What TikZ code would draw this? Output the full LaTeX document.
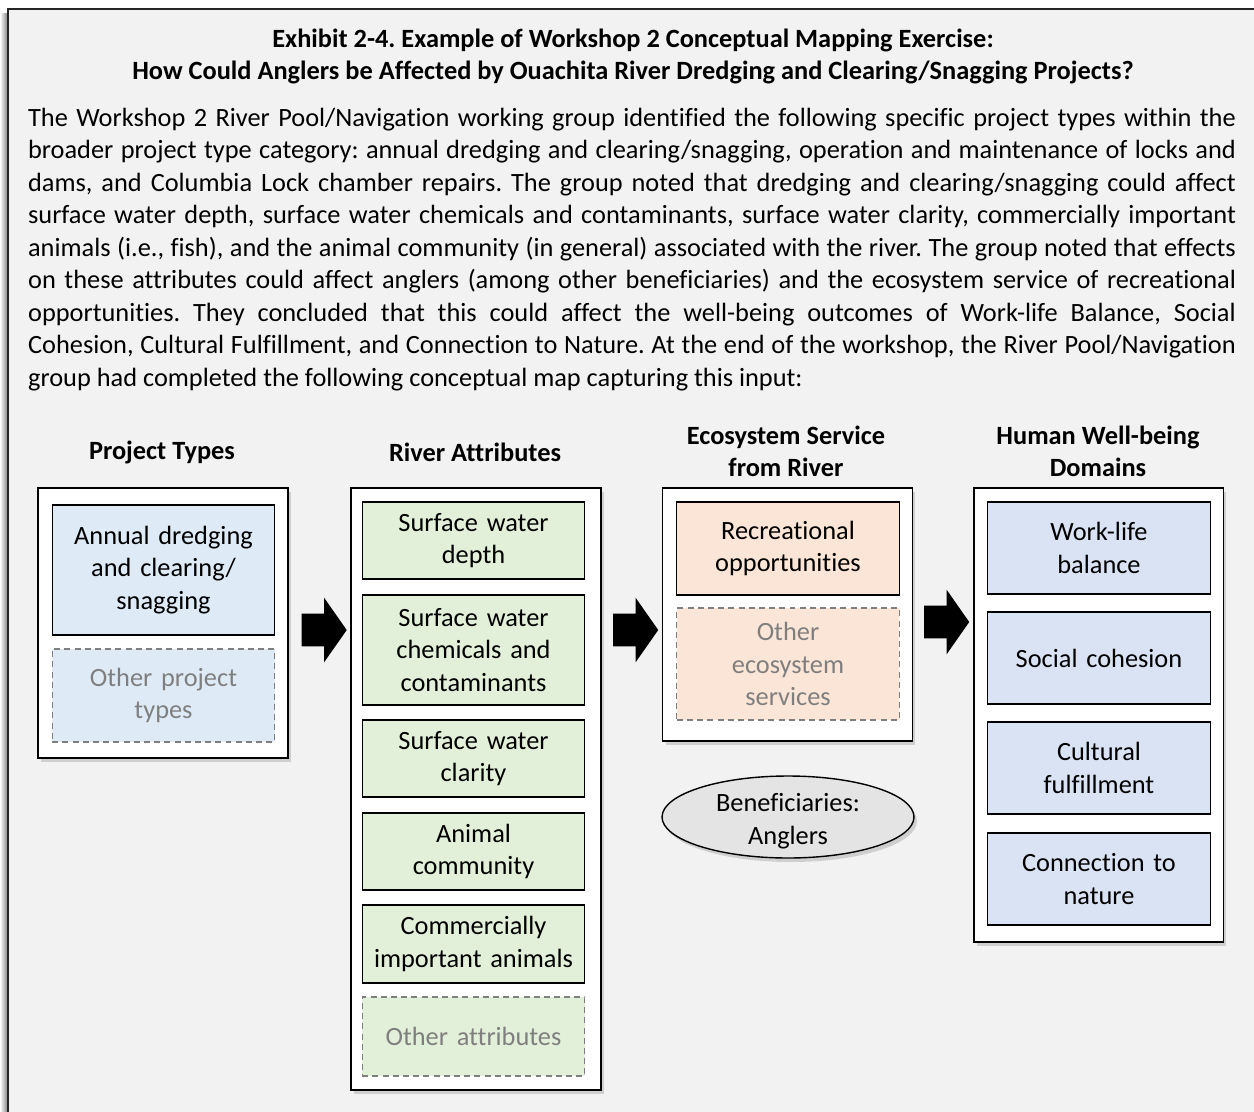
\documentclass[tikz,border=0pt]{standalone}
\usepackage{fontspec}
\setmainfont{Carlito}[RawFeature=-liga]
\frenchspacing
\usetikzlibrary{shapes.geometric,shapes.arrows,shadows}

\definecolor{pagebg}{HTML}{F2F2F2}
\definecolor{projblue}{HTML}{DEEBF7}
\definecolor{attrgreen}{HTML}{E2F0D9}
\definecolor{servpeach}{HTML}{FBE5D6}
\definecolor{domainblue}{HTML}{DAE3F3}
\definecolor{benefgray}{HTML}{E4E4E4}
\definecolor{othergray}{HTML}{7F7F7F}

\begin{document}
\begin{tikzpicture}[
  x=0.02cm, y=-0.02cm,
  every node/.style={font=\fontsize{15}{18.5}\selectfont, inner sep=0pt},
  colbox/.style={draw, fill=white, line width=1.1pt, minimum width=5cm,
    drop shadow={shadow xshift=0.06cm, shadow yshift=-0.08cm, opacity=0.3}},
  item/.style={draw, line width=0.8pt, minimum width=4.45cm, text width=4.3cm, align=center},
  otheritem/.style={item, draw=othergray, text=othergray, dash pattern=on 3.4pt off 2.4pt},
  header/.style={font=\fontsize{15}{18.3}\selectfont\bfseries, align=center},
  blockarrow/.style={single arrow, fill=black, draw=none, minimum height=0.9cm,
    inner xsep=0pt, inner ysep=0.32cm, single arrow head extend=0.32cm,
    single arrow tip angle=110}
  ]

  % Page
  \useasboundingbox (0,0) rectangle (1254,1112);
  \fill[white] (0,0) rectangle (1254,1112);
  \shade[left color=white, right color=black!45] (0,13) rectangle (7,1112);
  \fill[pagebg] (8,9) rectangle (1254,1112);
  \draw[line width=1.2pt, black!85] (8,1112) -- (8,9) -- (1254,9);

  % Title and text
  \node[header, font=\fontsize{15}{18}\selectfont\bfseries] (title) at (633,56.5)
    {Exhibit 2-4. Example of Workshop 2 Conceptual Mapping Exercise:\\
     How Could Anglers be Affected by Ouachita River Dredging and Clearing/Snagging Projects?};
  \node[text width=24.16cm, align=justify] (intro) at (632,249.5) {\noindent
    The Workshop 2 River Pool/Navigation working group identified the following specific project types within the\linebreak
    broader project type category: annual dredging and clearing/snagging, operation and maintenance of locks and\linebreak
    dams, and Columbia Lock chamber repairs. The group noted that dredging and clearing/snagging could affect\linebreak
    surface water depth, surface water chemicals and contaminants, surface water clarity, commercially important\linebreak
    animals (i.e., fish), and the animal community (in general) associated with the river. The group noted that effects\linebreak
    on these attributes could affect anglers (among other beneficiaries) and the ecosystem service of recreational\linebreak
    opportunities. They concluded that this could affect the well-being outcomes of Work-life Balance, Social\linebreak
    Cohesion, Cultural Fulfillment, and Connection to Nature. At the end of the workshop, the River Pool/Navigation\linebreak
    group had completed the following conceptual map capturing this input:};

  % Column headers
  \node[header] (pthead) at (162,452) {Project Types};
  \node[header] (rahead) at (475,452) {River Attributes};
  \node[header] (eshead) at (786,451) {Ecosystem Service\\from River};
  \node[header] (hwhead) at (1098,451) {Human Well-being\\Domains};

  % Columns
  \node[colbox, minimum height=5.4cm] (pt) at (163,623) {};
  \node[colbox, minimum height=12.04cm] (ra) at (476,789) {};
  \node[colbox, minimum height=5.06cm] (es) at (787.5,614.5) {};
  \node[colbox, minimum height=9.08cm] (hw) at (1098.5,715) {};

  % Project types
  \node[item, fill=projblue, minimum height=2.6cm] (pt1) at (163.5,570) {Annual dredging\\and clearing/\\snagging};
  \node[otheritem, fill=projblue, minimum height=1.86cm] (pt2) at (163.5,695.5) {Other project\\types};

  % River attributes
  \node[item, fill=attrgreen, minimum height=1.54cm] (ra1) at (473.5,540.5) {Surface water\\depth};
  \node[item, fill=attrgreen, minimum height=2.2cm] (ra2) at (473.5,650) {Surface water\\chemicals and\\contaminants};
  \node[item, fill=attrgreen, minimum height=1.54cm] (ra3) at (473.5,758.5) {Surface water\\clarity};
  \node[item, fill=attrgreen, minimum height=1.54cm] (ra4) at (473.5,851.5) {Animal\\community};
  \node[item, fill=attrgreen, minimum height=1.56cm] (ra5) at (473.5,944) {Commercially\\important animals};
  \node[otheritem, fill=attrgreen, minimum height=1.58cm] (ra6) at (473.5,1036.5) {Other attributes};

  % Ecosystem services
  \node[item, fill=servpeach, minimum height=1.86cm] (es1) at (788,548.5) {Recreational\\opportunities};
  \node[otheritem, fill=servpeach, minimum height=2.24cm] (es2) at (788,664) {Other\\ecosystem\\services};
  \node[ellipse, draw, line width=0.8pt, fill=benefgray, minimum width=5.04cm, minimum height=1.64cm,
    drop shadow={shadow xshift=0.06cm, shadow yshift=-0.08cm, opacity=0.3}] (benef) at (788,817)
    {\raisebox{-2.5pt}[\height][\depth]{\parbox{3cm}{\centering Beneficiaries:\\Anglers}}};

  % Well-being domains
  \node[item, fill=domainblue, minimum height=1.84cm] (hw1) at (1099,548) {Work-life\\balance};
  \node[item, fill=domainblue, minimum height=1.84cm] (hw2) at (1099,658) {Social cohesion};
  \node[item, fill=domainblue, minimum height=1.84cm] (hw3) at (1099,768) {Cultural\\fulfillment};
  \node[item, fill=domainblue, minimum height=1.84cm] (hw4) at (1099,879) {Connection to\\nature};

  % Arrows between columns
  \node[blockarrow] (arr1) at (318.5,630) {};
  \node[blockarrow] (arr2) at (630,630) {};
  \node[blockarrow] (arr3) at (941,622) {};

\end{tikzpicture}
\end{document}
